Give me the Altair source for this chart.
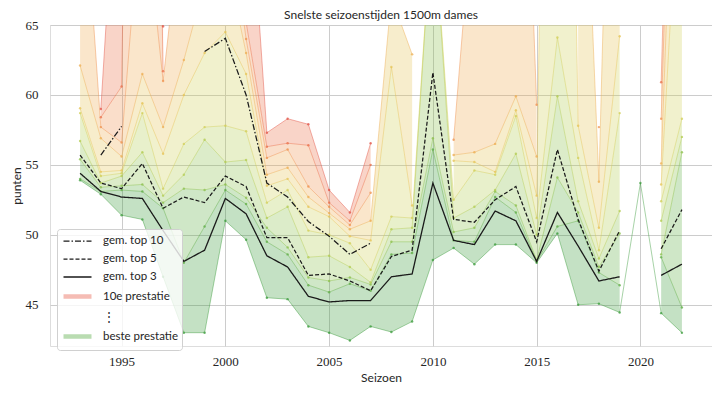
import altair as alt
import pandas as pd

seasons = list(range(1993, 2023))

rank1 = [53.9, 52.9, 51.4, 51.1, 47.0, 43.0, 43.0, 51.0, 49.65, 45.5, 45.4, 43.45, 43.0, 42.45, 43.45,
         43.05, 43.8, 48.2, 49.05, 47.9, 49.3, 49.3, 48.0, 50.1, 45.0, 45.07, 44.45, 53.7, 44.4, 43.0]
rank2 = [54.0, 53.1, 53.2, 53.1, 51.9, 48.0, 50.6, 53.2, 52.2, 49.5, 48.6, 46.4, 45.9, 46.5, 46.0,
         48.6, 48.7, 56.1, 49.6, 49.5, 52.7, 51.6, 48.1, 50.6, 51.0, 47.3, 46.4, None, 48.4, 44.8]
rank3 = [55.4, 53.4, 53.5, 53.6, 52.3, 53.3, 53.2, 53.6, 52.65, 50.5, 49.1, 46.95, 46.7, 46.95, 46.45,
         49.5, 49.5, 56.9, 50.2, 50.5, 53.1, 52.1, 48.2, 54.1, 51.6, 47.7, 50.1, None, 48.6, 55.9]
rank4 = [56.7, 53.7, 54.2, 55.9, 52.8, 54.3, 56.8, 55.2, 55.35, 51.2, 52.0, 48.4, 48.5, 47.7, 46.6,
         50.4, 50.5, 73.5, 51.2, 52.0, 53.2, 55.8, 50.0, 59.9, 52.4, 48.3, 51.7, None, 51.0, 57.0]
rank5 = [58.7, 54.2, 54.4, 58.7, 53.3, 56.5, 57.7, 57.8, 57.4, 52.3, 53.2, 50.3, 50.0, 49.4, 47.5,
         51.3, 51.2, 73.5, 52.5, 54.6, 54.3, 58.5, 51.2, 64.1, 55.5, 48.9, 58.7, None, 52.4, 58.3]
rank6 = [59.05, 54.5, 54.6, 59.4, 55.8, 60.0, 63.0, 64.5, 61.5, 53.5, 54.0, 52.0, 51.3, 49.9, 49.6,
         62.0, 52.1, None, 55.3, 55.2, 54.5, 58.9, 52.8, 150.0, 57.8, 50.5, 64.2, None, 53.6, 80.0]
rank7 = [62.1, 56.9, 55.6, 61.5, 57.7, 62.5, 68.0, 70.0, 63.0, 54.3, 54.8, 52.7, 51.55, 50.4, 51.0,
         67.0, 62.9, None, 55.7, 55.9, 56.5, 59.9, 55.6, None, 90.0, 53.8, 110.0, None, 55.1, 95.0]
rank8 = [79.0, 57.7, 56.6, 75.0, 61.0, 74.3, 75.0, 75.0, 64.0, 55.5, 56.1, 53.45, 52.0, 50.7, 53.0,
         None, None, None, 56.8, 75.0, 75.0, 100.0, 59.3, None, None, 57.7, None, None, 58.3, 105.0]
rank9 = [None, 58.4, 60.6, 150.0, 61.7, None, 80.0, 78.0, 65.2, 56.3, 56.55, 56.4, 52.3, 51.0, 55.0,
         None, None, None, None, None, None, None, None, None, None, None, None, None, 60.9, 115.0]
rank10 = [None, 59.0, 83.0, 160.0, 64.9, None, 83.0, 82.0, 79.0, 57.3, 58.3, 57.9, 53.2, 51.6, 56.55,
          None, None, None, None, None, None, None, None, None, None, None, None, None, None, None]

gem_top3 = [54.4, 53.1, 52.7, 52.6, 50.3, 48.1, 48.9, 52.6, 51.5, 48.5, 47.7, 45.6, 45.2, 45.3, 45.3,
            47.0, 47.2, 53.7, 49.6, 49.3, 51.7, 51.0, 48.1, 51.6, 49.2, 46.7, 47.0, None, 47.1, 47.9]
gem_top5 = [55.7, 53.7, 53.3, 55.1, 51.9, 52.7, 52.3, 54.2, 53.45, 49.8, 49.8, 47.1, 47.2, 46.7, 46.0,
            48.45, 48.9, 61.6, 51.1, 50.9, 52.5, 53.45, 49.5, 56.1, 51.1, 47.4, 50.3, None, 49.0, 51.8]
gem_top10 = [None, 55.7, 57.75, None, None, None, 63.1, 64.05, 60.0, 53.7, 52.7, 50.95, 49.9, 48.6, 49.4,
             None, None, None, None, None, None, None, None, None, None, None, None, None, None, None]

rank_colors = ["#3c9c3c", "#5fae45", "#8cc04c", "#b3cc52", "#d2cf58",
               "#e6c457", "#eead52", "#ef914e", "#ea6f49", "#e25245"]

legend_labels = ["gem. top 10", "gem. top 5", "gem. top 3", "10e prestatie", "⋮", "beste prestatie"]
legend_colors = ["#1a1a1a", "#1a1a1a", "#1a1a1a", "#f5bcb4", "rgba(0,0,0,0)", "#b9dcb1"]
legend_dashes = [[6, 2, 1.5, 2], [4, 2], [1, 0], [1, 0], [1, 0], [1, 0]]
legend_widths = [1.25, 1.25, 1.3, 4.5, 0.5, 4.5]

ranks = [rank1, rank2, rank3, rank4, rank5, rank6, rank7, rank8, rank9, rank10]

line_df = pd.DataFrame([
    {"seizoen": s, "rang": k + 1, "punten": v}
    for k, r in enumerate(ranks) for s, v in zip(seasons, r)
])

band_rows = []
for k in range(9):
    for s, lo, hi in zip(seasons, ranks[k], ranks[k + 1]):
        ok = lo is not None and hi is not None
        band_rows.append({"seizoen": s, "band": k + 1,
                          "lo": lo if ok else None, "hi": hi if ok else None})
band_df = pd.DataFrame(band_rows)

mean_df = pd.DataFrame([
    {"seizoen": s, "reeks": name, "punten": v}
    for name, arr in [("gem. top 10", gem_top10), ("gem. top 5", gem_top5), ("gem. top 3", gem_top3)]
    for s, v in zip(seasons, arr)
])

SANS = "Lato"
SERIF = "Liberation Serif"

xs = alt.Scale(domain=[1991.55, 2023.45], nice=False, zero=False)
ys = alt.Scale(domain=[42.05, 65], nice=False, zero=False)

x_axis = alt.Axis(title="Seizoen", values=[1995, 2000, 2005, 2010, 2015, 2020], format="d",
                  labelFont=SERIF, labelFontSize=13, labelColor="#262626", labelPadding=9,
                  titleFont=SANS, titleFontSize=12, titleFontWeight="normal", titleColor="#262626",
                  titlePadding=4, tickSize=0, domain=False, grid=True, gridColor="#cccccc")
y_axis = alt.Axis(title="punten", values=[45, 50, 55, 60, 65],
                  labelFont=SERIF, labelFontSize=13, labelColor="#262626", labelPadding=12,
                  titleFont=SANS, titleFontSize=12, titleFontWeight="normal", titleColor="#262626",
                  titlePadding=2, tickSize=0, domain=False, grid=True, gridColor="#cccccc")

bands = alt.Chart(band_df).mark_area(opacity=0.3, clip=True).encode(
    x=alt.X("seizoen:Q", scale=xs, axis=x_axis),
    y=alt.Y("lo:Q", scale=ys, axis=y_axis, stack=None),
    y2="hi:Q",
    color=alt.Color("band:O", scale=alt.Scale(domain=list(range(1, 10)), range=rank_colors[:9]),
                    legend=None),
)

rank_lines = alt.Chart(line_df).mark_line(strokeWidth=1, opacity=0.45, clip=True).encode(
    x=alt.X("seizoen:Q", scale=xs, axis=x_axis),
    y=alt.Y("punten:Q", scale=ys, axis=y_axis),
    color=alt.Color("rang:O", scale=alt.Scale(domain=list(range(1, 11)), range=rank_colors),
                    legend=None),
)
rank_pts = alt.Chart(line_df).mark_circle(size=6, opacity=0.75, clip=True).encode(
    x=alt.X("seizoen:Q", scale=xs, axis=x_axis),
    y=alt.Y("punten:Q", scale=ys, axis=y_axis),
    color=alt.Color("rang:O", scale=alt.Scale(domain=list(range(1, 11)), range=rank_colors),
                    legend=None),
)

leg = dict(title=None, orient="none", legendX=7, legendY=204,
           symbolType="M-1,0H3", symbolSize=196,
           labelFont=SANS, labelFontSize=11.5, labelColor="#262626", labelOffset=23,
           fillColor="rgba(255,255,255,0.8)", strokeColor="#d0d0d0", padding=4,
           cornerRadius=3, rowPadding=4.0)

means = alt.Chart(mean_df).mark_line(clip=True).encode(
    x=alt.X("seizoen:Q", scale=xs, axis=x_axis),
    y=alt.Y("punten:Q", scale=ys, axis=y_axis),
    color=alt.Color("reeks:N", scale=alt.Scale(domain=legend_labels, range=legend_colors),
                    legend=alt.Legend(**leg)),
    strokeDash=alt.StrokeDash("reeks:N", scale=alt.Scale(domain=legend_labels, range=legend_dashes),
                              legend=alt.Legend(**leg)),
    strokeWidth=alt.StrokeWidth("reeks:N", scale=alt.Scale(type="ordinal", domain=legend_labels,
                                                           range=legend_widths),
                                legend=alt.Legend(**leg)),
)

chart = alt.layer(bands, rank_lines, rank_pts, means).resolve_scale(
    color="independent", strokeDash="independent", strokeWidth="independent"
).properties(
    width=662, height=321,
    title=alt.Title("Snelste seizoenstijden 1500m dames", font=SANS, fontSize=12,
                    fontWeight="normal", color="#262626", offset=-3, anchor="middle", frame="group"),
    autosize=alt.AutoSizeParams(type="none"),
    padding={"left": 42, "top": 17, "right": 0, "bottom": 40},
).configure_view(stroke="#cccccc", strokeWidth=1).configure(background="white")

chart.save("out.html", embed_options={"renderer": "svg", "actions": False})
